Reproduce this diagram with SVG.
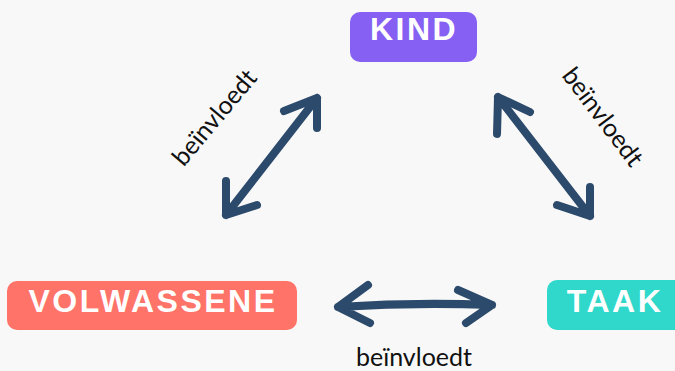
<svg xmlns="http://www.w3.org/2000/svg" width="675" height="371" viewBox="0 0 675 371">
<style>
.box text{font-family:"Liberation Sans",Arial,sans-serif;font-weight:bold;font-size:32px;fill:#fff;letter-spacing:2.5px;text-anchor:middle}
.lbl{font-family:Lato,"Noto Sans",sans-serif;font-size:25px;fill:#111;text-anchor:middle}
.arr{fill:none;stroke:#2C4A6B;stroke-width:8;stroke-linecap:round;stroke-linejoin:round}
</style>
<rect width="675" height="371" fill="#F8F8F8"/>
<g id="kind" class="box">
<rect x="350" y="12" width="127" height="50" rx="10" fill="#8560F2"/>
<text x="414" y="40">KIND</text>
</g>
<g id="volwassene" class="box">
<rect x="7" y="281" width="290" height="49" rx="10" fill="#FF7369"/>
<text x="153" y="312">VOLWASSENE</text>
</g>
<g id="taak" class="box">
<rect x="547" y="280" width="140" height="50" rx="10" fill="#2FD8CA"/>
<text x="615" y="312">TAAK</text>
</g>
<g id="connectors">
<path class="arr" d="M317,98 L226,215 M284,111 L317,98 L317,128 M226,181 L226,215 L257,205"/>
<path class="arr" d="M498,97 L590,216 M497,134 L498,97 L530,112 M590,187 L590,216 L557,205"/>
<path class="arr" d="M338,307 Q415,302 492,305 M368,285 L338,307 L370,323 M458,290 L492,305 L466,323"/>
</g>
<text class="lbl" transform="translate(221,123) rotate(-50)">beïnvloedt</text>
<text class="lbl" transform="translate(596,122) rotate(53)">beïnvloedt</text>
<text class="lbl" x="414" y="366">beïnvloedt</text>
</svg>
